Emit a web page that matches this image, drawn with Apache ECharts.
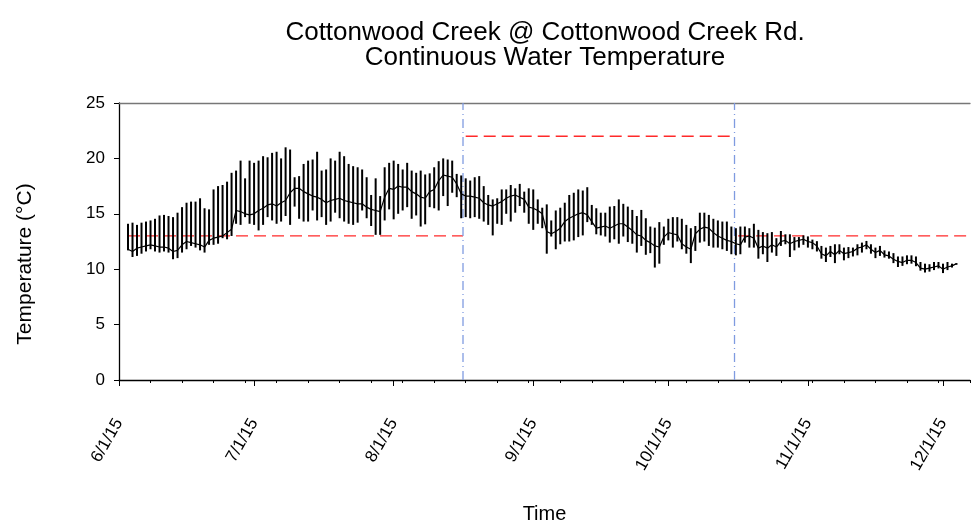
<!DOCTYPE html>
<html>
<head>
<meta charset="utf-8">
<script src="https://cdn.jsdelivr.net/npm/echarts@6/dist/echarts.min.js"></script>
<style>
html,body{margin:0;padding:0;background:#fff;}
#chart{width:973px;height:529px;}
</style>
</head>
<body>
<div id="chart"></div>
<script>
// x values are days since 6/1/15; first reading is 6/3/15
const firstDay = 2;
const tickDays = [0, 30, 61, 92, 122, 153, 183];
const tickLabels = ['6/1/15', '7/1/15', '8/1/15', '9/1/15', '10/1/15', '11/1/15', '12/1/15'];

// daily maximum temperature (°C)
const dailyHigh = [
 14.1,14.2,14.0,14.2,14.3,14.4,14.55,14.85,14.9,14.8,
 14.7,15.1,15.6,16.0,16.1,16.1,16.4,15.5,15.4,17.2,
 17.5,17.6,17.9,18.7,18.9,19.8,18.2,19.8,19.6,19.8,
 20.2,20.1,20.5,20.6,20.0,21.0,20.8,18.3,18.4,19.5,
 19.8,19.9,20.6,18.9,19.0,20.0,19.8,20.6,20.2,19.5,
 19.3,19.2,19.0,18.3,16.7,18.2,16.6,19.2,19.6,19.8,
 19.5,19.0,19.6,18.9,18.7,18.9,18.55,18.65,19.2,19.75,
 20.0,19.9,19.8,18.6,18.46,18.2,18.0,18.3,18.4,17.5,
 16.7,16.3,16.4,17.2,17.2,17.6,17.3,17.7,17.0,17.3,
 17.2,16.3,15.55,15.85,14.4,15.3,15.55,16.0,16.7,16.9,
 17.2,17.1,17.4,15.8,15.5,15.1,15.1,15.65,15.7,16.3,
 15.9,15.65,15.35,14.8,15.35,14.6,13.85,13.75,14.25,13.85,
 14.55,14.7,14.7,14.55,14.0,13.7,13.9,15.1,15.1,14.9,
 14.55,14.4,14.3,14.3,13.85,13.7,13.85,13.85,13.7,14.1,
 13.55,13.35,13.25,13.35,12.8,13.45,13.15,13.15,12.9,12.9,
 13.05,12.96,12.67,12.53,12.1,11.95,12.1,12.25,12.25,11.95,
 12.0,11.95,12.25,12.4,12.55,12.25,11.95,12.1,11.7,11.6,
 11.45,11.15,11.15,11.25,11.25,11.15,10.65,10.5,10.45,10.65,
 10.65,10.5,10.65,10.5,10.55
];
// daily minimum temperature (°C)
const dailyLow = [
 11.7,11.1,11.2,11.4,11.6,11.8,11.6,11.5,11.6,11.5,
 10.9,11.0,11.5,11.8,12.1,11.95,11.7,11.5,12.2,12.2,
 12.3,12.8,12.7,13.0,14.1,14.0,14.7,14.1,14.0,13.5,
 14.0,14.7,14.4,14.1,14.3,14.8,14.0,15.65,14.55,14.3,
 14.3,15.3,14.4,14.7,14.0,14.3,15.1,14.6,14.3,14.1,
 14.0,14.2,15.3,14.6,13.9,13.1,13.1,14.4,15.4,14.5,
 15.0,15.3,15.6,14.55,14.85,13.85,14.05,15.6,15.5,15.3,
 16.6,15.7,16.9,16.5,14.6,14.7,14.6,14.7,14.55,14.3,
 14.0,13.05,14.1,14.0,15.0,14.3,15.1,15.7,15.1,14.1,
 13.55,14.1,13.7,11.4,12.95,11.8,12.25,12.5,12.5,12.6,
 12.9,13.05,14.25,14.0,13.15,13.05,12.95,12.4,12.7,12.3,
 12.95,12.45,12.3,11.5,12.1,11.3,11.45,10.15,10.5,12.2,
 12.6,11.95,12.5,11.8,11.4,10.55,11.65,12.4,12.5,12.1,
 11.95,11.95,11.8,11.65,11.35,11.25,11.35,12.4,11.95,11.95,
 10.95,11.35,10.65,11.5,11.2,12.1,12.25,11.1,11.7,11.95,
 12.2,11.95,11.8,11.6,10.95,10.65,11.1,10.55,11.35,10.8,
 11.0,11.15,11.25,11.5,11.8,11.4,11.0,11.2,11.05,10.95,
 10.55,10.2,10.3,10.45,10.5,10.27,9.87,9.7,9.78,9.92,
 10.07,9.65,9.92,10.15,10.4
];
// temperature around midnight (joins one day to the next)
const midnightTemp = [
 11.8,11.6,11.9,12.0,12.1,12.2,12.1,12.0,12.0,11.9,
 11.6,11.7,12.2,12.5,12.4,12.3,12.2,12.0,12.6,12.8,
 12.9,13.0,13.3,13.6,15.3,15.2,15.0,14.9,15.0,15.3,
 15.5,15.8,15.9,15.7,16.0,16.2,16.9,17.3,17.3,17.0,
 16.8,16.6,16.5,16.3,16.0,16.2,16.3,16.4,16.2,16.1,
 16.0,15.9,15.9,15.6,15.4,15.3,15.2,16.5,17.3,17.2,
 17.5,17.4,17.4,17.0,16.8,16.5,16.4,17.0,17.2,18.0,
 18.5,18.4,18.3,17.7,16.8,16.6,16.6,16.5,16.4,16.0,
 15.8,15.7,15.9,16.1,16.4,16.6,16.7,16.5,16.3,15.6,
 15.5,15.3,15.0,13.4,13.2,13.4,13.7,14.3,14.6,14.8,
 15.0,15.1,14.9,14.3,13.7,13.8,13.9,13.7,13.9,14.1,
 14.1,13.8,13.5,13.1,13.0,12.6,12.4,12.1,12.0,12.9,
 13.3,13.2,13.1,12.3,12.0,11.8,13.2,13.6,13.8,13.7,
 13.3,13.0,12.8,12.6,12.5,12.3,12.2,12.9,13.0,12.8,
 11.9,12.1,11.9,12.2,12.0,12.5,12.6,12.3,12.5,12.6,
 12.7,12.5,12.4,12.1,11.4,11.2,11.6,11.3,11.7,11.4,
 11.5,11.6,11.9,12.0,12.2,11.8,11.5,11.7,11.3,11.2,
 10.9,10.7,10.6,10.8,10.8,10.6,10.1,10.0,10.1,10.2,
 10.3,10.0,10.2,10.3,10.5
];

// temperature criteria (red dashed) and period boundaries (blue dash-dot)
const critStart = [2, 77, 137.5];
const critEnd = [76.4, 136.8, 189];
const critValue = [13, 22, 13];
const periodBreaks = [76.4, 136.7];

const FONT = 'Liberation Sans';
const days = dailyHigh.map((_, i) => firstDay + i);
const rangeData = days.map((d, i) => [d, dailyLow[i], dailyHigh[i]]);
const connData = days.map((d, i) => [d, midnightTemp[i]]);

const series = [];
critStart.forEach((s, i) => {
  series.push({
    type: 'line', xAxisIndex: 0, yAxisIndex: 0, silent: true, symbol: 'none', z: 2,
    data: [[s, critValue[i]], [critEnd[i], critValue[i]]],
    lineStyle: { color: '#ff2a2a', width: 1.3, type: [12, 6] }
  });
});
periodBreaks.forEach(b => {
  series.push({
    type: 'line', xAxisIndex: 0, yAxisIndex: 0, silent: true, symbol: 'none', z: 2,
    data: [[b, 0], [b, 25]],
    lineStyle: { color: '#7f9be0', width: 1.3, type: [9, 4, 1, 4] }
  });
});
series.push({
  type: 'line', xAxisIndex: 0, yAxisIndex: 0, silent: true, symbol: 'none', z: 3,
  data: connData,
  lineStyle: { color: '#000', width: 1.2 }
});
series.push({
  type: 'custom', xAxisIndex: 0, yAxisIndex: 0, silent: true, z: 4,
  data: rangeData,
  encode: { x: 0, y: [1, 2] },
  renderItem: function (params, api) {
    const x = api.value(0);
    const p1 = api.coord([x, api.value(1)]);
    const p2 = api.coord([x, api.value(2)]);
    return { type: 'line', shape: { x1: p1[0], y1: p1[1], x2: p2[0], y2: p2[1] },
             style: { stroke: '#000', lineWidth: 2 } };
  }
});

const chart = echarts.init(document.getElementById('chart'), null, { renderer: 'canvas' });
chart.setOption({
  animation: false,
  backgroundColor: '#fff',
  textStyle: { fontFamily: FONT },
  grid: { left: 119, right: 3, top: 103, bottom: 138, containLabel: false },
  graphic: [
    { type: 'text', x: 545, y: 33, style: { text: 'Cottonwood Creek @ Cottonwood Creek Rd.', font: '26px "Liberation Sans"', fill: '#000', textAlign: 'center', textVerticalAlign: 'middle' } },
    { type: 'text', x: 545, y: 58, style: { text: 'Continuous Water Temperature', font: '26px "Liberation Sans"', fill: '#000', textAlign: 'center', textVerticalAlign: 'middle' } },
    { type: 'text', x: 25, y: 264, rotation: Math.PI / 2, style: { text: 'Temperature (°C)', font: '21px "Liberation Sans"', fill: '#000', textAlign: 'center', textVerticalAlign: 'middle' } }
  ],
  xAxis: [
    { type: 'value', position: 'bottom', min: 0, max: 189, interval: 7,
      axisLine: { show: true, lineStyle: { color: '#000', width: 1.3 } },
      axisTick: { show: true, length: 3, inside: false, lineStyle: { color: '#000' } },
      axisLabel: { show: false }, splitLine: { show: false } },
    { type: 'value', position: 'bottom', min: 0, max: 189,
      name: 'Time', nameLocation: 'middle', nameGap: 124,
      nameTextStyle: { fontSize: 20, color: '#000', fontFamily: FONT },
      axisLine: { show: false },
      axisTick: { show: true, length: 6, customValues: tickDays, lineStyle: { color: '#000' } },
      axisLabel: { show: true, customValues: tickDays, rotate: 60, margin: 40, fontSize: 17, color: '#000', fontFamily: FONT,
        formatter: v => { const k = tickDays.indexOf(Math.round(v)); return k >= 0 ? tickLabels[k] : ''; } },
      splitLine: { show: false } },
    { type: 'value', position: 'top', min: 0, max: 189,
      axisLine: { show: true, lineStyle: { color: '#777', width: 1.3 } },
      axisTick: { show: false }, axisLabel: { show: false }, splitLine: { show: false } }
  ],
  yAxis: [
    { type: 'value', min: 0, max: 25, interval: 5,
      axisLine: { show: true, lineStyle: { color: '#000', width: 1.3 } },
      axisTick: { show: true, length: 5, lineStyle: { color: '#000' } },
      axisLabel: { fontSize: 17, color: '#000', margin: 14, fontFamily: FONT },
      splitLine: { show: false } }
  ],
  series: series
});
</script>
</body>
</html>
